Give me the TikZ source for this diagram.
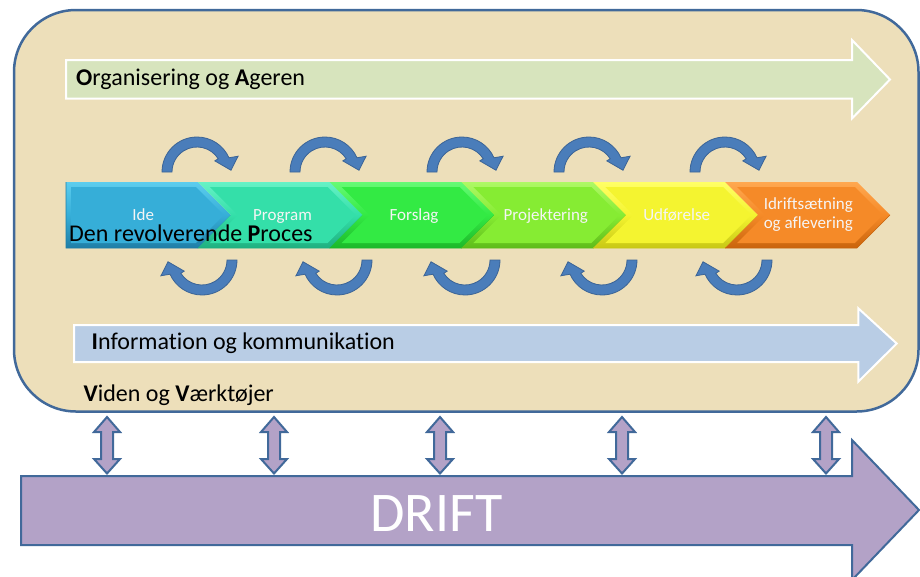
\documentclass[tikz,border=0pt]{standalone}
\usepackage{fontspec}
\setmainfont{Carlito}[Ligatures=NoCommon, RawFeature={-liga;-clig;-dlig}]
\definecolor{panelfill}{HTML}{EDDFBA}
\definecolor{panelline}{HTML}{41699A}
\definecolor{orgfill}{HTML}{D7E4BD}
\definecolor{infofill}{HTML}{B9CDE5}
\definecolor{driftfill}{HTML}{B3A2C7}
\definecolor{circfill}{HTML}{4A7DBA}
\definecolor{circline}{HTML}{3B6496}
\definecolor{idL}{HTML}{5CCDEE}\definecolor{idM}{HTML}{36AED8}\definecolor{idD}{HTML}{1F7EA6}
\definecolor{prL}{HTML}{66F2C6}\definecolor{prM}{HTML}{34DFA9}\definecolor{prD}{HTML}{1FB080}
\definecolor{foL}{HTML}{66FA75}\definecolor{foM}{HTML}{33EA44}\definecolor{foD}{HTML}{1CB82A}
\definecolor{pjL}{HTML}{AEF866}\definecolor{pjM}{HTML}{86EC33}\definecolor{pjD}{HTML}{5EBC1A}
\definecolor{udL}{HTML}{FFFF66}\definecolor{udM}{HTML}{F4F430}\definecolor{udD}{HTML}{C8C815}
\definecolor{irL}{HTML}{FFA850}\definecolor{irM}{HTML}{F58A28}\definecolor{irD}{HTML}{C9640C}
\tikzset{
  panel/.style={fill=panelfill, draw=panelline, line width=2.5pt, rounded corners=62pt},
  bandarrow/.style={draw=white, line width=2pt},
  circarrow/.style={fill=circfill, draw=circline, line width=0.8pt},
  dblarrow/.style={fill=driftfill, draw=panelline, line width=2pt},
  driftarrow/.style={fill=driftfill, draw=panelline, line width=2pt},
  bigtext/.style={font=\fontsize{24}{28}\selectfont, inner sep=0pt, anchor=base west, text=black},
  chevtext/.style={font=\fontsize{17}{20}\selectfont, inner sep=0pt, anchor=base, text=white!96!black, align=center}
}
\newcommand\cyclearrow[2]{%
  \begin{scope}[shift={#1}, rotate=#2]
    \draw[circarrow] (-180:25) -- (-180:35) arc[start angle=-180,end angle=-24,radius=35]
      -- (-21:44) -- (-3:34) -- (-32:21) -- (-32:25)
      arc[start angle=-32,end angle=-180,radius=25] -- cycle;
  \end{scope}}
\newcommand\updown[1]{%
  \begin{scope}[shift={(#1,0)}]
    \draw[dblarrow] (0,417) -- (13,432) -- (6,432) -- (6,459) -- (13,459) -- (0,473.5)
      -- (-13,459) -- (-6,459) -- (-6,432) -- (-13,432) -- cycle;
  \end{scope}}
\newcommand\chevron[4]{%
  \shade[top color=#2, bottom color=#4, middle color=#3]
    (#1,182) -- ++(132,0) -- ++(33,33) -- ++(-33,33) -- ++(-132,0) -- ++(33,-33) -- cycle;
  \fill[#3] (#1+12.07,187) -- (#1+129.93,187) -- (#1+157.93,215) -- (#1+129.93,243)
    -- (#1+12.07,243) -- (#1+40.07,215) -- cycle;
  \draw[#4, line width=0.6pt] (#1,248) -- ++(132,0) -- ++(33,-33);}
\begin{document}
\begin{tikzpicture}[x=1pt,y=-1pt, line join=miter]
\useasboundingbox (0,0) rectangle (920,576);
% main panel
\draw[panel] (14,10) rectangle (918.5,411.5);
% top band arrow
\draw[bandarrow, fill=orgfill] (66,60) -- (852,60) -- (852,40) -- (890,79.5) -- (852,118.5)
  -- (852,98.5) -- (66,98.5) -- cycle;
\node[bigtext] (org) at (76,85) {\textbf{O}rganisering og \textbf{A}geren};
% circular arrows
\cyclearrow{(197,172)}{0}
\cyclearrow{(325,172)}{0}
\cyclearrow{(462,172)}{0}
\cyclearrow{(589,172)}{0}
\cyclearrow{(725,172)}{0}
\cyclearrow{(202,260)}{180}
\cyclearrow{(337,260)}{180}
\cyclearrow{(465,260)}{180}
\cyclearrow{(602,260)}{180}
\cyclearrow{(737,260)}{180}
% chevrons
\shade[top color=idL, bottom color=idD, middle color=idM]
  (66,182) -- (198,182) -- (231,215) -- (198,248) -- (66,248) -- cycle;
\fill[idM] (71,187) -- (195.9,187) -- (223.9,215) -- (195.9,243) -- (71,243) -- cycle;
\draw[idD, line width=0.6pt] (66,182) -- (66,248) -- (198,248) -- (231,215);
\chevron{197.8}{prL}{prM}{prD}
\chevron{329.6}{foL}{foM}{foD}
\chevron{461.4}{pjL}{pjM}{pjD}
\chevron{593.2}{udL}{udM}{udD}
\chevron{725}{irL}{irM}{irD}
\node[chevtext] (ide) at (143.3,220) {Ide};
\node[chevtext] (prog) at (282.5,220) {Program};
\node[chevtext] (fors) at (414,220) {Forslag};
\node[chevtext] (proj) at (545.8,220) {Projektering};
\node[chevtext] (udf) at (676.7,220) {Udførelse};
\node[chevtext, anchor=center] (idr) at (808.3,215) {Idriftsætning\\[-1pt]og aflevering};
\node[bigtext] (proces) at (69,241.5) {Den revolverende \textbf{P}roces};
% bottom band arrow
\draw[bandarrow, fill=infofill] (74,325) -- (858.3,325) -- (858.3,308.3) -- (896.7,343.5)
  -- (858.3,381.7) -- (858.3,362) -- (74,362) -- cycle;
\node[bigtext] (info) at (91.5,349.3) {\textbf{I}nformation og kommunikation};
\node[bigtext] (viden) at (83.5,401.7) {\textbf{V}iden og \textbf{V}ærktøjer};
% drift arrow
\draw[driftarrow] (21,476) -- (852,476) -- (852,440) -- (919,510) -- (852,580)
  -- (852,545) -- (21,545) -- cycle;
\node[font=\fontsize{56}{60}\selectfont, text=white, inner sep=0pt, anchor=base] (drift)
  at (436.5,531.5) {DRIFT};
% double arrows
\updown{107}
\updown{274}
\updown{440}
\updown{622}
\updown{826}
\end{tikzpicture}
\end{document}
